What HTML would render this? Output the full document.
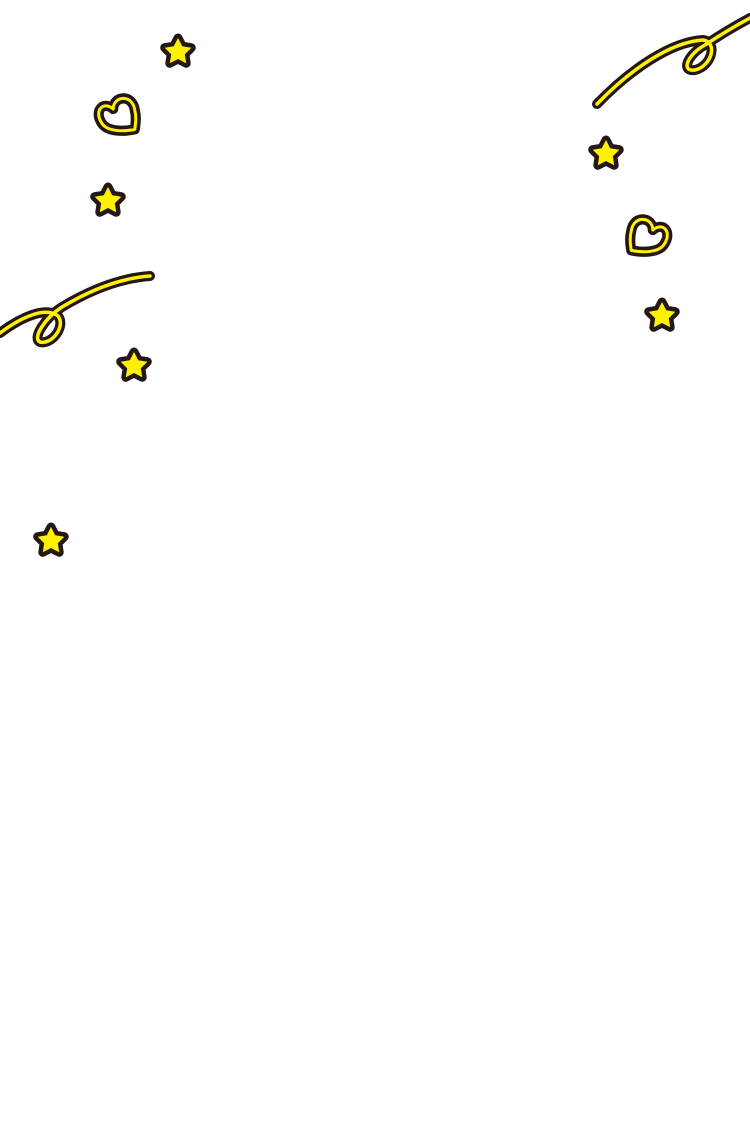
<!DOCTYPE html>
<html><head><style>html,body{margin:0;padding:0;background:#fff;width:750px;height:1130px;overflow:hidden}</style></head>
<body>
<svg width="750" height="1130" viewBox="0 0 750 1130" xmlns="http://www.w3.org/2000/svg">
<defs>
<path id="st" d="M0,-14 L4.2,-5.8 L13.3,-4.3 L6.8,2.2 L8.2,11.3 L0,7 L-8.2,11.3 L-6.8,2.2 L-13.3,-4.3 L-4.2,-5.8 Z"/>
<path id="ht" d="M-14,6 C-20,-4 -12,-12 -4,-5 C-4,-16 12,-18 14,-4 C16,4 14,10 14,12 C4,14 -10,14 -14,6 Z"/>
</defs>
<g fill="none" stroke-linecap="round" stroke-linejoin="round">
<path d="M0,333 C20,318 45,306 58,316 C66,326 52,345 40,342 C32,338 45,318 62,307 C92,289 122,278 150,276" stroke="#231815" stroke-width="10"/>
<path d="M0,333 C20,318 45,306 58,316 C66,326 52,345 40,342 C32,338 45,318 62,307 C92,289 122,278 150,276" stroke="#fff100" stroke-width="3.5"/>
<path d="M597,104 C630,70 670,42 703,40 C718,42 712,66 695,70 C680,72 688,54 705,45 C720,35 735,26 750,18" stroke="#231815" stroke-width="10"/>
<path d="M597,104 C630,70 670,42 703,40 C718,42 712,66 695,70 C680,72 688,54 705,45 C720,35 735,26 750,18" stroke="#fff100" stroke-width="3.5"/>
</g>
<g stroke-linejoin="round">
<g stroke="#231815" stroke-width="9" fill="#fff100">
<use href="#st" x="178" y="52"/><use href="#st" x="108" y="201"/><use href="#st" x="134" y="366"/>
<use href="#st" x="51" y="541"/><use href="#st" x="606" y="154"/><use href="#st" x="662" y="316"/>
</g>
<g fill="#fff100" stroke="none">
<use href="#st" x="178" y="52"/><use href="#st" x="108" y="201"/><use href="#st" x="134" y="366"/>
<use href="#st" x="51" y="541"/><use href="#st" x="606" y="154"/><use href="#st" x="662" y="316"/>
</g>
<g fill="none">
<g transform="translate(118,115) scale(1.2)">
<use href="#ht" stroke="#231815" stroke-width="8.5"/>
<use href="#ht" stroke="#fff100" stroke-width="2.5"/>
</g>
<g transform="translate(648,236) scale(-1.2,1.2)">
<use href="#ht" stroke="#231815" stroke-width="8.5"/>
<use href="#ht" stroke="#fff100" stroke-width="2.5"/>
</g>
</g>
</g>
</svg>
</body></html>
